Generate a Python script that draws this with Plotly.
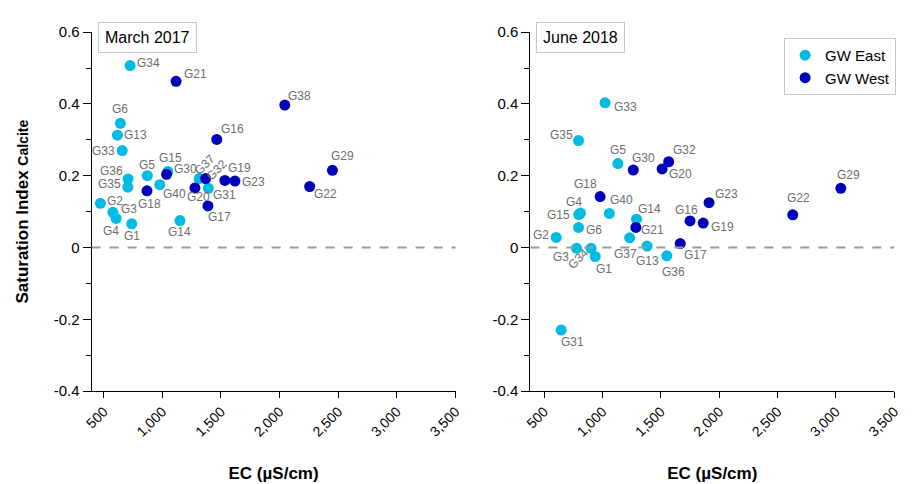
import plotly.graph_objects as go

# ---------------- data ----------------
# March 2017
m_names = ["G34", "G21", "G6", "G13", "G33", "G16", "G36", "G35", "G5", "G15", "G30", "G18",
           "G40", "G37", "G32", "G19", "G23", "G20", "G31", "G17", "G2", "G3", "G4", "G1",
           "G14", "G38", "G22", "G29"]
m_ec = [725, 1117, 642, 617, 658, 1464, 708, 706, 872, 1047, 1036, 869,
        978, 1314, 1369, 1533, 1619, 1278, 1392, 1389, 472, 578, 606, 739,
        1150, 2044, 2256, 2450]
m_si = [0.507, 0.463, 0.346, 0.313, 0.270, 0.301, 0.191, 0.168, 0.200, 0.212, 0.204, 0.158,
        0.175, 0.192, 0.192, 0.187, 0.185, 0.166, 0.165, 0.116, 0.123, 0.098, 0.081, 0.066,
        0.075, 0.397, 0.170, 0.215]
m_grp = ["E", "W", "E", "E", "E", "W", "E", "E", "E", "E", "W", "W",
         "E", "E", "W", "W", "W", "W", "E", "W", "E", "E", "E", "E",
         "E", "W", "W", "W"]

# June 2018
j_names = ["G33", "G35", "G5", "G30", "G20", "G32", "G18", "G4", "G15", "G40", "G14", "G21",
           "G6", "G2", "G37", "G3", "G34", "G1", "G13", "G36", "G17", "G16", "G19", "G23",
           "G22", "G29", "G31"]
j_ec = [1022, 795, 1132, 1264, 1511, 1567, 980, 812, 797, 1059, 1292, 1286,
        795, 604, 1233, 778, 902, 938, 1382, 1551, 1666, 1750, 1863, 1913,
        2630, 3042, 646]
j_si = [0.403, 0.298, 0.234, 0.216, 0.219, 0.239, 0.142, 0.096, 0.092, 0.095, 0.079, 0.056,
        0.056, 0.028, 0.027, -0.002, -0.002, -0.025, 0.004, -0.023, 0.011, 0.074, 0.068, 0.125,
        0.091, 0.165, -0.230]
j_grp = ["E", "E", "E", "W", "W", "W", "W", "E", "E", "E", "E", "W",
         "E", "E", "E", "E", "E", "E", "E", "E", "W", "W", "W", "W",
         "W", "W", "E"]

x_ticks = [500, 1000, 1500, 2000, 2500, 3000, 3500]
x_ticklabels = ["500", "1,000", "1,500", "2,000", "2,500", "3,000", "3,500"]
x_long_ticks = [1000, 2000, 3000]
y_ticks = [-0.4, -0.2, 0, 0.2, 0.4, 0.6]
y_ticklabels = ["-0.4", "-0.2", "0", "0.2", "0.4", "0.6"]

# ---------------- label placement (pixel offsets: right, down; optional angle) ----------------
m_off = {"G34": (18, -3), "G21": (19, -7), "G6": (0, -14), "G13": (18, 0), "G33": (-19, 0),
         "G16": (16, -10), "G36": (-17, -8), "G35": (-18, -3), "G5": (0, -11), "G15": (3, -13),
         "G30": (19, -5), "G18": (3, 13), "G40": (15, 9), "G37": (5, -14, -45), "G32": (11, -9, -45),
         "G19": (15, -12), "G23": (19, 1), "G20": (4, 9), "G31": (16, 7), "G17": (12, 11),
         "G2": (15, -2), "G3": (16, -3), "G4": (-5, 13), "G1": (0, 12), "G14": (0, 11),
         "G38": (15, -9), "G22": (16, 8), "G29": (10, -14)}
j_off = {"G33": (20, 4), "G35": (-17, -6), "G5": (0, -14), "G30": (10, -12), "G20": (18, 5),
         "G32": (16, -12), "G18": (-15, -13), "G4": (-7, -11), "G15": (-20, 1), "G40": (12, -13),
         "G14": (13, -10), "G21": (17, 3), "G6": (15, 3), "G2": (-15, -2), "G37": (-4, 16),
         "G3": (-16, 9), "G34": (-13, 11, -45), "G1": (9, 13), "G13": (0, 15), "G36": (7, 16),
         "G17": (15, 11), "G16": (-4, -11), "G19": (19, 4), "G23": (17, -9), "G22": (6, -17),
         "G29": (8, -13), "G31": (11, 12)}

EAST = "#00BCE4"
WEST = "#0000B8"
LABEL = "#6E6E6E"
FONT = "Liberation Sans, Arial, sans-serif"

fig = go.Figure()

panels = [("x", "y", m_names, m_ec, m_si, m_grp, m_off, True),
          ("x2", "y2", j_names, j_ec, j_si, j_grp, j_off, False)]

annotations = []
for xa, ya, names, ec, si, grp, off, show in panels:
    for g, label, col in [("E", "GW East", EAST), ("W", "GW West", WEST)]:
        xs = [e for e, gg in zip(ec, grp) if gg == g]
        ys = [s for s, gg in zip(si, grp) if gg == g]
        fig.add_trace(go.Scatter(x=xs, y=ys, mode="markers", xaxis=xa, yaxis=ya,
                                 name=label, legendgroup=g, showlegend=show,
                                 marker=dict(color=col, size=11, line=dict(width=0))))
    for n, e, s in zip(names, ec, si):
        o = off[n]
        annotations.append(dict(x=e, y=s, xref=xa, yref=ya, text=n, showarrow=False,
                                xshift=o[0], yshift=-o[1],
                                textangle=o[2] if len(o) > 2 else 0,
                                font=dict(size=12, color=LABEL, family=FONT)))

# panel titles
annotations.append(dict(x=92 / 919, y=1 - 13 / 484, xref="paper", yref="paper", xanchor="left",
                        yanchor="top", text="March 2017", showarrow=False,
                        font=dict(size=16, color="black", family=FONT),
                        bordercolor="#C8C8C8", borderwidth=1, borderpad=6, bgcolor="white"))
annotations.append(dict(x=537 / 919, y=1 - 13 / 484, xref="paper", yref="paper", xanchor="left",
                        yanchor="top", text="June 2018", showarrow=False,
                        font=dict(size=16, color="black", family=FONT),
                        bordercolor="#C8C8C8", borderwidth=1, borderpad=6, bgcolor="white"))

xr1 = [397, 3500]
xr2 = [382, 3500]
yr = [-0.4, 0.6]
xd1 = [85 / 919, 455 / 919]
xd2 = [531 / 919, 901 / 919]
yd = [1 - 396 / 484, 1 - 24 / 484]

def xaxis(dom, rng, anchor):
    return dict(domain=dom, range=rng, anchor=anchor, tickvals=x_ticks, ticktext=x_ticklabels,
                tickangle=-45, ticks="outside", ticklen=6, tickcolor="black",
                showline=True, linecolor="black", linewidth=1, showgrid=False, zeroline=False,
                tickfont=dict(size=14, family=FONT, color="black"),
                title=dict(text="<b>EC (µS/cm)</b>", font=dict(size=17, family=FONT, color="black"),
                           standoff=28))

def yaxis(anchor):
    return dict(domain=yd, range=yr, anchor=anchor, tickvals=y_ticks, ticktext=y_ticklabels,
                ticks="outside", ticklen=8, tickcolor="black",
                minor=dict(dtick=0.1, tick0=0, ticks="outside", ticklen=5, tickcolor="black"),
                showline=True, linecolor="black", linewidth=1, showgrid=False, zeroline=False,
                tickfont=dict(size=15, family=FONT, color="black"))

def xlong(dom, rng, over, anchor):
    return dict(domain=dom, range=rng, overlaying=over, anchor=anchor, side="bottom",
                tickvals=x_long_ticks, showticklabels=False, ticks="outside", ticklen=12,
                tickcolor="black", showline=False, showgrid=False, zeroline=False)

y1 = yaxis("x")
y1["title"] = dict(text="<b>Saturation Index </b><b><span style='font-size:14px'>Calcite</span></b>",
                   font=dict(size=17, family=FONT, color="black"), standoff=20)

fig.update_layout(
    width=919, height=484, margin=dict(l=0, r=0, t=0, b=0),
    paper_bgcolor="white", plot_bgcolor="white",
    xaxis=xaxis(xd1, xr1, "y"), yaxis=y1,
    xaxis2=xaxis(xd2, xr2, "y2"), yaxis2=yaxis("x2"),
    xaxis3=xlong(xd1, xr1, "x", "y"), xaxis4=xlong(xd2, xr2, "x2", "y2"),
    annotations=annotations,
    legend=dict(x=789 / 919, y=1 - 30 / 484, xanchor="left", yanchor="top",
                bordercolor="#C8C8C8", borderwidth=1, bgcolor="white",
                font=dict(size=15, family=FONT, color="black"), itemwidth=30,
                tracegroupgap=0),
    shapes=[dict(type="line", xref="x domain", yref="y", x0=0, x1=1, y0=0, y1=0,
                 line=dict(color="#9A9A9A", width=2, dash="dash")),
            dict(type="line", xref="x2 domain", yref="y2", x0=0, x1=1, y0=0, y1=0,
                 line=dict(color="#9A9A9A", width=2, dash="dash"))],
)

fig.write_html("out.html")
